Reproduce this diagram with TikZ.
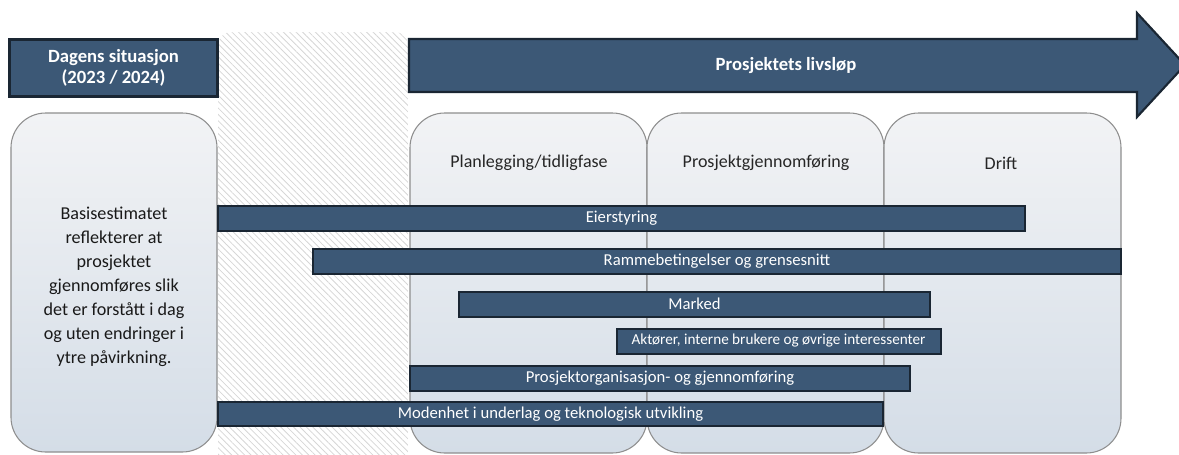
\documentclass[tikz,border=0pt]{standalone}
\usepackage{fontspec}
\setmainfont{Carlito}
\usetikzlibrary{patterns.meta}
\definecolor{navy}{HTML}{3C5876}
\definecolor{navyedge}{HTML}{1A2633}
\definecolor{phasetop}{HTML}{F2F3F5}
\definecolor{phasebot}{HTML}{D4DDE7}
\definecolor{phaseedge}{HTML}{8E8E8E}
\definecolor{hatch}{HTML}{D6D6D6}
\tikzset{
  headbox/.style={draw=navyedge, line width=1.6pt, fill=navy, text=white,
    font=\fontsize{14}{16}\selectfont\bfseries, align=center},
  phasebox/.style={draw=phaseedge, line width=0.8pt, rounded corners=26,
    top color=phasetop, bottom color=phasebot},
  bar/.style={draw=navyedge, line width=1.5pt, fill=navy, text=white,
    inner sep=0pt, font=\fontsize{12.5}{14}\selectfont},
  phaselabel/.style={font=\fontsize{13.5}{15}\selectfont, text=black!85},
}
\begin{document}
\begin{tikzpicture}[x=0.75pt, y=-0.75pt]
\useasboundingbox (0,0) rectangle (1179,454);

% hatched gap between today and the project phases
\path[rounded corners=10, pattern={Lines[angle=-45, distance=3.4pt, line width=0.6pt]},
  pattern color=hatch] (218,32) rectangle (408,470);

% header: today's situation
\node[headbox, minimum width=208*0.75pt, minimum height=57*0.75pt, inner sep=0pt]
  (today) at (113.5,68) {Dagens situasjon\\(2023 / 2024)};

% header: life-cycle arrow
\draw[draw=navyedge, line width=1.6pt, fill=navy]
  (409,39) -- (1137,39) -- (1137,13) -- (1185,65) -- (1137,117) -- (1137,92) -- (409,92) -- cycle;
\node[font=\fontsize{14}{16}\selectfont\bfseries, text=white] (life) at (786,65.5) {Prosjektets livsløp};

% phase columns
\path[phasebox] (11,113) rectangle (217,452);
\node[font=\fontsize{13.6}{18}\selectfont, align=center, text=black!90] (base) at (114,287)
  {Basisestimatet\\reflekterer at\\prosjektet\\gjennomføres slik\\det er forstått i dag\\og uten endringer i\\ytre påvirkning.};

\path[phasebox] (410,113) rectangle (647,453);
\path[phasebox] (647,113) rectangle (884,453);
\path[phasebox] (884,113) rectangle (1121,453);
\node[phaselabel] (plan) at (529,163) {Planlegging/tidligfase};
\node[phaselabel] (exec) at (766,163) {Prosjektgjennomføring};
\node[phaselabel] (ops) at (1001,163) {Drift};

% influencing factors
\node[bar, minimum width=807*0.75pt, minimum height=25*0.75pt] (owner) at (621.5,218) {Eierstyring};
\node[bar, minimum width=808*0.75pt, minimum height=25*0.75pt] (frame) at (717,261.5) {Rammebetingelser og grensesnitt};
\node[bar, minimum width=471*0.75pt, minimum height=25*0.75pt] (market) at (694.5,304) {Marked};
\node[bar, minimum width=324*0.75pt, minimum height=25*0.75pt,
  font=\fontsize{11.4}{13}\selectfont] (actors) at (778.5,341) {Aktører, interne brukere og øvrige interessenter};
\node[bar, minimum width=500*0.75pt, minimum height=25*0.75pt] (org) at (660,378.5) {Prosjektorganisasjon- og gjennomføring};
\node[bar, minimum width=665*0.75pt, minimum height=24*0.75pt] (maturity) at (550.5,414) {Modenhet i underlag og teknologisk utvikling};
\end{tikzpicture}
\end{document}
